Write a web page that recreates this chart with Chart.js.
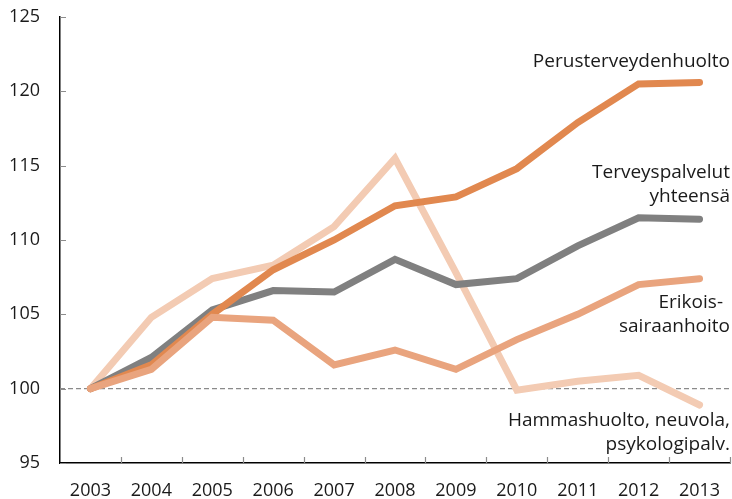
<!DOCTYPE html>
<html>
<head>
<meta charset="utf-8">
<script src="https://cdn.jsdelivr.net/npm/chart.js@4.4.1/dist/chart.umd.min.js"></script>
<style>
  html, body { margin: 0; padding: 0; background: #fff; }
  #wrap { width: 732px; height: 499px; position: relative; }
</style>
</head>
<body>
<div id="wrap"><canvas id="chart"></canvas></div>
<script>
// Index, 2003 = 100
const years = ["2003", "2004", "2005", "2006", "2007", "2008", "2009", "2010", "2011", "2012", "2013"];
const perusterveydenhuolto = [100, 101.6, 105.0, 108.0, 110.0, 112.3, 112.9, 114.8, 117.9, 120.5, 120.6];
const terveyspalvelutYht = [100, 102.1, 105.3, 106.6, 106.5, 108.7, 107.0, 107.4, 109.6, 111.5, 111.4];
const erikoissairaanhoito = [100, 101.3, 104.8, 104.6, 101.6, 102.6, 101.3, 103.3, 105.0, 107.0, 107.4];
const hammashuolto = [100, 104.8, 107.4, 108.3, 110.9, 115.5, 107.8, 99.9, 100.5, 100.9, 98.9];
const yTicks = [95, 100, 105, 110, 115, 120, 125];
const baselineValue = 100;

const FONT = "'Open Sans', 'DejaVu Sans', sans-serif";
const TEXT = "#1a1a1a";

// series labels drawn at the right end, [lines, value at which the block sits]
const seriesLabels = [
  { lines: ["Perusterveydenhuolto"], value: 122.0 },
  { lines: ["Terveyspalvelut", "yhteensä"], value: 113.7 },
  { lines: ["Erikois-", "sairaanhoito"], value: 104.95 },
  { lines: ["Hammashuolto, neuvola,", "psykologipalv."], value: 97.05 },
];

const lineDataset = (data, color) => ({
  data,
  borderColor: color,
  backgroundColor: color,
  borderWidth: 7,
  borderCapStyle: "round",
  borderJoinStyle: "miter",
  pointRadius: 0,
  pointHoverRadius: 0,
  tension: 0,
  fill: false,
});

const decorPlugin = {
  id: "decor",
  beforeDatasetsDraw(chart) {
    const { ctx, chartArea, scales } = chart;
    const y = scales.y.getPixelForValue(baselineValue);
    ctx.save();
    ctx.strokeStyle = "#8a8a8a";
    ctx.lineWidth = 1.3;
    ctx.setLineDash([5, 3]);
    ctx.beginPath();
    ctx.moveTo(chartArea.left, y);
    ctx.lineTo(chartArea.right, y);
    ctx.stroke();
    ctx.restore();
  },
  afterDraw(chart) {
    const { ctx, chartArea, scales } = chart;
    const xs = scales.x, ys = scales.y;
    ctx.save();
    // inside tick marks
    ctx.strokeStyle = "#8c8c8c";
    ctx.lineWidth = 1.2;
    const half = (xs.getPixelForValue(1) - xs.getPixelForValue(0)) / 2;
    ctx.beginPath();
    for (let i = 1; i <= years.length; i++) {
      const px = Math.round(xs.getPixelForValue(i) - half) + 0.5;
      ctx.moveTo(px, chartArea.bottom);
      ctx.lineTo(px, chartArea.bottom - 6);
    }
    yTicks.forEach((v) => {
      const py = Math.round(ys.getPixelForValue(v)) + 0.5;
      ctx.moveTo(chartArea.left, py);
      ctx.lineTo(chartArea.left + 6, py);
    });
    ctx.stroke();

    // series labels
    ctx.fillStyle = TEXT;
    ctx.font = `19px ${FONT}`;
    ctx.textAlign = "right";
    ctx.textBaseline = "middle";
    const lineH = 24;
    seriesLabels.forEach((lab) => {
      const cy = ys.getPixelForValue(lab.value);
      const top = cy - ((lab.lines.length - 1) * lineH) / 2;
      lab.lines.forEach((t, k) => {
        const rx = t.endsWith("-") ? chartArea.right - 7 : chartArea.right;
        ctx.fillText(t, rx, top + k * lineH);
      });
    });
    ctx.restore();
  },
};

new Chart(document.getElementById("chart"), {
  type: "line",
  data: {
    labels: years,
    datasets: [
      lineDataset(erikoissairaanhoito, "#E9A47E"),
      lineDataset(perusterveydenhuolto, "#E1884F"),
      lineDataset(terveyspalvelutYht, "#808080"),
      lineDataset(hammashuolto, "#F3CBB3"),
    ],
  },
  options: {
    responsive: true,
    maintainAspectRatio: false,
    animation: false,
    layout: { padding: { top: 17, right: 2, left: 0, bottom: 0 } },
    plugins: {
      legend: { display: false },
      tooltip: { enabled: false },
    },
    scales: {
      x: {
        type: "category",
        offset: true,
        grid: { display: false, drawTicks: false },
        border: { display: true, color: "#000", width: 1.5 },
        ticks: {
          color: TEXT,
          font: { family: FONT, size: 18 },
          padding: 17,
          maxRotation: 0,
          autoSkip: false,
        },
        afterFit: (scale) => {
          scale.height = 36;
          scale.paddingLeft = 0;
          scale.paddingRight = 0;
        },
      },
      y: {
        min: 95,
        max: 125,
        grid: { display: false, drawTicks: false },
        border: { display: true, color: "#000", width: 1.5 },
        afterBuildTicks: (scale) => { scale.ticks = yTicks.map((v) => ({ value: v })); },
        ticks: {
          color: TEXT,
          font: { family: FONT, size: 18 },
          padding: 20,
        },
        afterFit: (scale) => {
          scale.width = 60;
          scale.paddingTop = 0;
          scale.paddingBottom = 0;
        },
      },
    },
  },
  plugins: [decorPlugin],
});
</script>
</body>
</html>
